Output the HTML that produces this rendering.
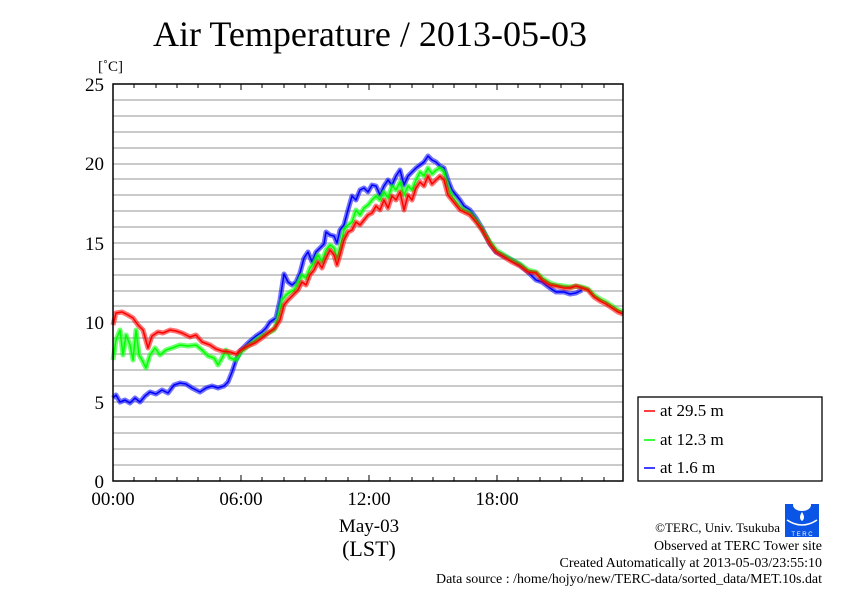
<!DOCTYPE html>
<html><head><meta charset="utf-8"><style>
html,body{margin:0;padding:0;background:#fff;}
svg{display:block;font-family:"Liberation Serif",serif;}
</style></head><body>
<svg width="842" height="595" viewBox="0 0 842 595" xmlns="http://www.w3.org/2000/svg">
<rect width="842" height="595" fill="#fff"/>
<text x="370" y="46" font-size="36" text-anchor="middle" textLength="434" lengthAdjust="spacingAndGlyphs">Air Temperature / 2013-05-03</text>
<text x="98" y="71" font-size="15">[˚C]</text>
<g stroke="#aaa" stroke-width="1.2">
<line x1="113" x2="623" y1="100" y2="100"/><line x1="113" x2="623" y1="116" y2="116"/><line x1="113" x2="623" y1="132" y2="132"/><line x1="113" x2="623" y1="148" y2="148"/><line x1="113" x2="623" y1="164" y2="164"/>
<line x1="113" x2="623" y1="179" y2="179"/><line x1="113" x2="623" y1="195" y2="195"/><line x1="113" x2="623" y1="211" y2="211"/><line x1="113" x2="623" y1="227" y2="227"/><line x1="113" x2="623" y1="243" y2="243"/>
<line x1="113" x2="623" y1="259" y2="259"/><line x1="113" x2="623" y1="275" y2="275"/><line x1="113" x2="623" y1="291" y2="291"/><line x1="113" x2="623" y1="306" y2="306"/><line x1="113" x2="623" y1="322" y2="322"/>
<line x1="113" x2="623" y1="338" y2="338"/><line x1="113" x2="623" y1="354" y2="354"/><line x1="113" x2="623" y1="370" y2="370"/><line x1="113" x2="623" y1="386" y2="386"/><line x1="113" x2="623" y1="402" y2="402"/>
<line x1="113" x2="623" y1="417" y2="417"/><line x1="113" x2="623" y1="433" y2="433"/><line x1="113" x2="623" y1="449" y2="449"/><line x1="113" x2="623" y1="465" y2="465"/>
</g>
<g fill="none" stroke-linejoin="round">
<polyline stroke="rgba(0,0,255,0.55)" stroke-width="5" points="113,398 116,395 120,402 125,400 130,403 135,398 140,402 145,396 150,392 156,394 162,390 168,393 174,385 180,383 186,384 192,388 196,390 200,392 206,388 212,386 218,388 224,386 228,382 232,372 236,360 241,350 248,343 256,336 262,332 266,328 270,322 276,318 280,300 284,274 288,282 292,285 296,282 300,273 304,258 308,252 312,262 316,252 320,248 324,244 326,232 330,235 334,236 337,243 340,230 344,225 348,210 352,196 356,200 360,190 364,188 368,192 372,185 376,186 380,195 384,186 388,180 392,185 396,176 400,170 404,185 408,176 412,172 416,168 420,165 424,162 428,156 432,160 436,162 440,166 444,168 448,180 452,190 456,195 460,200 464,206 470,210 476,218 482,228 490,244 496,252 504,256 512,260 520,265 528,272 536,280 542,282 550,288 556,292 564,292 570,294 576,293 582,290"/>
<polyline stroke="#00f" stroke-width="1.5" points="113,398 116,395 120,402 125,400 130,403 135,398 140,402 145,396 150,392 156,394 162,390 168,393 174,385 180,383 186,384 192,388 196,390 200,392 206,388 212,386 218,388 224,386 228,382 232,372 236,360 241,350 248,343 256,336 262,332 266,328 270,322 276,318 280,300 284,274 288,282 292,285 296,282 300,273 304,258 308,252 312,262 316,252 320,248 324,244 326,232 330,235 334,236 337,243 340,230 344,225 348,210 352,196 356,200 360,190 364,188 368,192 372,185 376,186 380,195 384,186 388,180 392,185 396,176 400,170 404,185 408,176 412,172 416,168 420,165 424,162 428,156 432,160 436,162 440,166 444,168 448,180 452,190 456,195 460,200 464,206 470,210 476,218 482,228 490,244 496,252 504,256 512,260 520,265 528,272 536,280 542,282 550,288 556,292 564,292 570,294 576,293 582,290"/>
<polyline stroke="rgba(0,255,0,0.55)" stroke-width="5" points="113,360 116,340 120,330 123,355 126,335 130,345 133,360 136,330 139,355 142,360 146,368 150,355 155,348 160,355 166,350 172,348 180,345 188,346 196,345 202,350 208,356 214,358 218,365 222,358 226,350 230,358 236,360 241,352 248,346 256,340 262,336 268,333 274,330 278,318 282,300 286,295 290,292 294,290 298,283 302,275 306,278 310,268 314,263 318,255 322,262 326,250 330,245 334,248 337,258 340,248 344,230 348,225 352,222 356,210 360,215 364,208 368,205 372,200 376,196 380,200 384,192 388,198 392,186 396,190 400,182 404,195 408,186 412,190 416,180 420,172 424,176 428,168 432,174 436,170 440,168 444,172 448,188 452,196 456,202 460,207 464,210 470,213 476,220 482,229 490,242 496,250 504,255 512,260 520,264 528,270 536,272 542,278 550,283 556,285 564,286 570,287 576,286 582,287 588,289 594,295 600,299 606,302 612,306 618,310 623,312"/>
<polyline stroke="#0f0" stroke-width="1.5" points="113,360 116,340 120,330 123,355 126,335 130,345 133,360 136,330 139,355 142,360 146,368 150,355 155,348 160,355 166,350 172,348 180,345 188,346 196,345 202,350 208,356 214,358 218,365 222,358 226,350 230,358 236,360 241,352 248,346 256,340 262,336 268,333 274,330 278,318 282,300 286,295 290,292 294,290 298,283 302,275 306,278 310,268 314,263 318,255 322,262 326,250 330,245 334,248 337,258 340,248 344,230 348,225 352,222 356,210 360,215 364,208 368,205 372,200 376,196 380,200 384,192 388,198 392,186 396,190 400,182 404,195 408,186 412,190 416,180 420,172 424,176 428,168 432,174 436,170 440,168 444,172 448,188 452,196 456,202 460,207 464,210 470,213 476,220 482,229 490,242 496,250 504,255 512,260 520,264 528,270 536,272 542,278 550,283 556,285 564,286 570,287 576,286 582,287 588,289 594,295 600,299 606,302 612,306 618,310 623,312"/>
<polyline stroke="rgba(255,0,0,0.55)" stroke-width="5" points="113,325 116,313 122,312 128,315 133,318 138,325 143,330 148,348 152,336 158,332 163,333 170,330 176,331 182,333 190,337 196,335 202,342 210,345 216,349 222,351 230,352 236,354 241,350 248,346 255,343 262,338 268,333 275,328 280,320 284,305 288,300 293,295 298,290 302,282 306,285 310,275 314,270 318,262 322,268 326,258 330,250 334,255 337,265 340,255 344,240 348,232 352,230 356,222 360,225 364,220 368,215 372,213 376,206 380,210 384,200 388,208 392,196 396,200 400,192 404,210 408,195 412,200 416,188 420,182 424,186 428,176 432,184 436,180 440,176 444,180 448,195 452,200 456,205 460,210 464,212 470,215 476,222 482,230 490,244 496,252 504,257 512,262 520,266 528,272 536,273 542,280 550,285 556,286 564,288 570,288 576,286 582,288 588,290 594,297 600,301 606,304 612,308 618,312 623,314"/>
<polyline stroke="#f00" stroke-width="1.5" points="113,325 116,313 122,312 128,315 133,318 138,325 143,330 148,348 152,336 158,332 163,333 170,330 176,331 182,333 190,337 196,335 202,342 210,345 216,349 222,351 230,352 236,354 241,350 248,346 255,343 262,338 268,333 275,328 280,320 284,305 288,300 293,295 298,290 302,282 306,285 310,275 314,270 318,262 322,268 326,258 330,250 334,255 337,265 340,255 344,240 348,232 352,230 356,222 360,225 364,220 368,215 372,213 376,206 380,210 384,200 388,208 392,196 396,200 400,192 404,210 408,195 412,200 416,188 420,182 424,186 428,176 432,184 436,180 440,176 444,180 448,195 452,200 456,205 460,210 464,212 470,215 476,222 482,230 490,244 496,252 504,257 512,262 520,266 528,272 536,273 542,280 550,285 556,286 564,288 570,288 576,286 582,288 588,290 594,297 600,301 606,304 612,308 618,312 623,314"/>
</g>
<rect x="113" y="84" width="510" height="397" fill="none" stroke="#000" stroke-width="1.5"/>
<g stroke="#000" stroke-width="1">
<line x1="134" x2="134" y1="84" y2="88"/><line x1="156" x2="156" y1="84" y2="88"/><line x1="177" x2="177" y1="84" y2="88"/><line x1="198" x2="198" y1="84" y2="88"/><line x1="220" x2="220" y1="84" y2="88"/><line x1="241" x2="241" y1="84" y2="90"/><line x1="262" x2="262" y1="84" y2="88"/><line x1="284" x2="284" y1="84" y2="88"/><line x1="305" x2="305" y1="84" y2="88"/><line x1="326" x2="326" y1="84" y2="88"/><line x1="348" x2="348" y1="84" y2="88"/><line x1="369" x2="369" y1="84" y2="90"/><line x1="390" x2="390" y1="84" y2="88"/><line x1="412" x2="412" y1="84" y2="88"/><line x1="433" x2="433" y1="84" y2="88"/><line x1="454" x2="454" y1="84" y2="88"/><line x1="476" x2="476" y1="84" y2="88"/><line x1="497" x2="497" y1="84" y2="90"/><line x1="518" x2="518" y1="84" y2="88"/><line x1="540" x2="540" y1="84" y2="88"/><line x1="561" x2="561" y1="84" y2="88"/><line x1="582" x2="582" y1="84" y2="88"/><line x1="604" x2="604" y1="84" y2="88"/>
<line x1="134" x2="134" y1="481" y2="477"/><line x1="156" x2="156" y1="481" y2="477"/><line x1="177" x2="177" y1="481" y2="477"/><line x1="198" x2="198" y1="481" y2="477"/><line x1="220" x2="220" y1="481" y2="477"/><line x1="241" x2="241" y1="481" y2="475"/><line x1="262" x2="262" y1="481" y2="477"/><line x1="284" x2="284" y1="481" y2="477"/><line x1="305" x2="305" y1="481" y2="477"/><line x1="326" x2="326" y1="481" y2="477"/><line x1="348" x2="348" y1="481" y2="477"/><line x1="369" x2="369" y1="481" y2="475"/><line x1="390" x2="390" y1="481" y2="477"/><line x1="412" x2="412" y1="481" y2="477"/><line x1="433" x2="433" y1="481" y2="477"/><line x1="454" x2="454" y1="481" y2="477"/><line x1="476" x2="476" y1="481" y2="477"/><line x1="497" x2="497" y1="481" y2="475"/><line x1="518" x2="518" y1="481" y2="477"/><line x1="540" x2="540" y1="481" y2="477"/><line x1="561" x2="561" y1="481" y2="477"/><line x1="582" x2="582" y1="481" y2="477"/><line x1="604" x2="604" y1="481" y2="477"/>
</g>
<g font-size="19" text-anchor="end">
<text x="104" y="91">25</text><text x="104" y="170">20</text><text x="104" y="250">15</text><text x="104" y="329">10</text><text x="104" y="409">5</text><text x="104" y="488">0</text>
</g>
<g font-size="19" text-anchor="middle">
<text x="113" y="505">00:00</text><text x="241" y="505">06:00</text><text x="369" y="505">12:00</text><text x="497" y="505">18:00</text>
<text x="369" y="532">May-03</text>
</g>
<text x="369" y="556" font-size="22" text-anchor="middle">(LST)</text>
<rect x="638" y="397" width="184" height="84" fill="#fff" stroke="#000" stroke-width="1.3"/>
<g stroke-width="1.5">
<line x1="644" x2="655" y1="411" y2="411" stroke="#f00"/><line x1="644" x2="655" y1="440" y2="440" stroke="#0f0"/><line x1="644" x2="655" y1="468" y2="468" stroke="#00f"/>
</g>
<g font-size="17"><text x="660" y="416">at 29.5 m</text><text x="660" y="445">at 12.3 m</text><text x="660" y="473">at 1.6 m</text></g>
<g font-size="14" text-anchor="end">
<text x="780" y="532" font-size="13">©TERC, Univ. Tsukuba</text>
<text x="822" y="550">Observed at TERC Tower site</text>
<text x="822" y="567">Created Automatically at 2013-05-03/23:55:10</text>
<text x="822" y="583" textLength="386" lengthAdjust="spacingAndGlyphs">Data source : /home/hojyo/new/TERC-data/sorted_data/MET.10s.dat</text>
</g>
<rect x="785" y="504" width="34" height="33" fill="#0a55e6"/>
<ellipse cx="802" cy="505" rx="9" ry="6" fill="#fff"/>
<path d="M802 512 q-4 6 0 9 q4 -3 0 -9z" fill="#fff"/>
<path d="M787 520 q15 10 30 0" stroke="#fff" fill="none" stroke-width="1.5"/>
<text x="802" y="536" font-size="6" fill="#fff" text-anchor="middle" font-family="Liberation Sans,sans-serif">T E R C</text>
</svg>
</body></html>
